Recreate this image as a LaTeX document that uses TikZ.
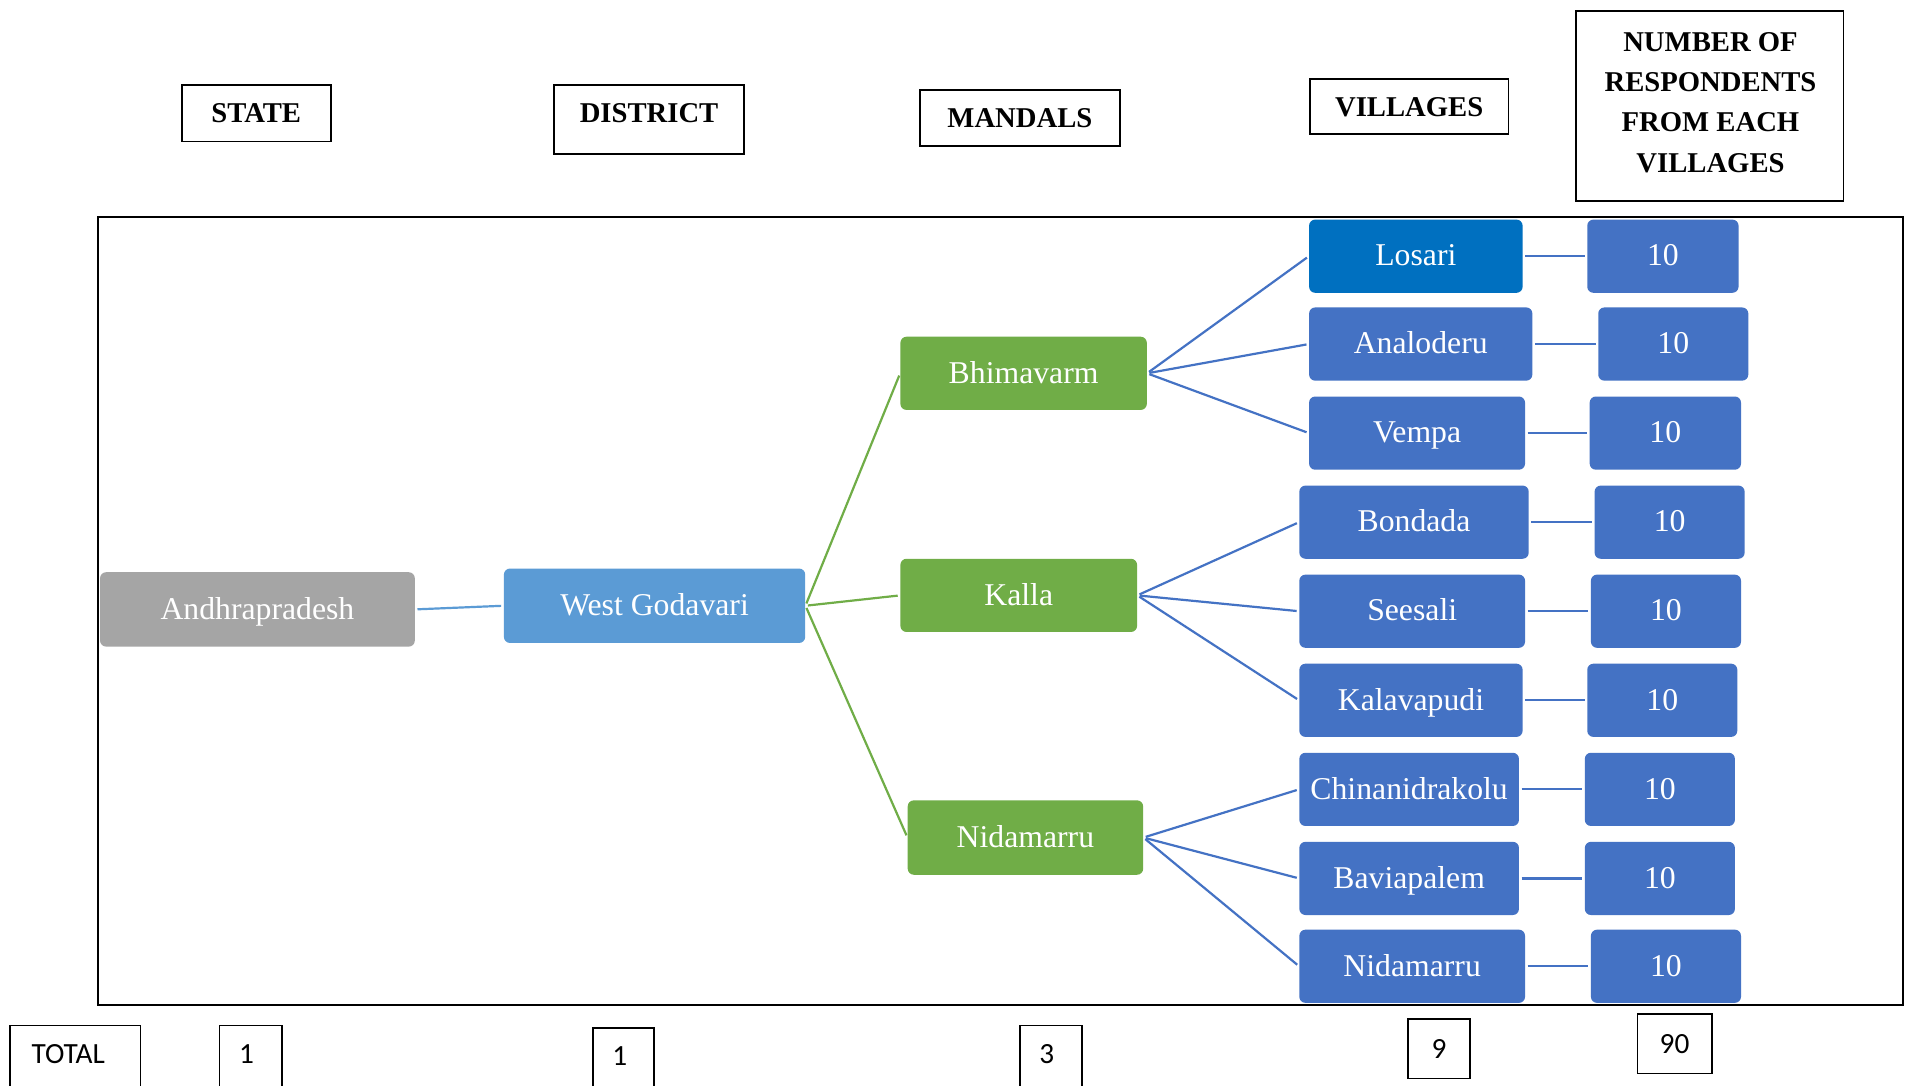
\documentclass[tikz,border=0pt]{standalone}
\usepackage{fontspec}
\setmainfont{Liberation Serif}
\newfontfamily\calib{Carlito}
\definecolor{cgray}{HTML}{A5A5A5}
\definecolor{clblue}{HTML}{5B9BD5}
\definecolor{cgreen}{HTML}{70AD47}
\definecolor{cblue}{HTML}{4472C4}
\definecolor{cdblue}{HTML}{0070C0}
\begin{document}
\begin{tikzpicture}[x=1pt,y=-1pt,
  box/.style={rounded corners=5pt, text=white, inner sep=0pt, font=\fontsize{26}{30}\selectfont, minimum height=60pt, text height=18.5pt, text depth=2.5pt},
  hdr/.style={draw=black, line width=1.5pt, fill=white, inner sep=0pt, font=\bfseries\fontsize{23.5}{33}\selectfont},
  hdrtxt/.style={inner sep=0pt, font=\bfseries\fontsize{23.5}{33}\selectfont},
  tot/.style={draw=black, line width=1.3pt, inner sep=0pt, font=\calib\fontsize{24}{28}\selectfont},
  tottxt/.style={inner sep=0pt, font=\calib\fontsize{24}{28}\selectfont},
  link/.style={line width=1.8pt, shorten <=2pt, shorten >=2pt}]
\useasboundingbox (0,0) rectangle (1568,890);
\clip (0,0) rectangle (1568,890);
\fill[white] (0,0) rectangle (1568,890);

% headers
\node[hdr, minimum width=122pt, minimum height=46pt] (hstate) at (210,93) {STATE};
\node[hdr, minimum width=156pt, minimum height=56pt] (hdistrict) at (532,98) {};
\node[hdrtxt] (tdistrict) at (532,93) {DISTRICT};
\node[hdr, minimum width=164pt, minimum height=46pt] (hmandals) at (836,97) {MANDALS};
\node[hdr, minimum width=163pt, minimum height=45pt] (hvillages) at (1155,87.5) {VILLAGES};
\node[hdr, minimum width=219pt, minimum height=156pt] (hnumber) at (1401.5,87) {};
\node[hdrtxt, align=center] (tnumber) at (1402,84) {NUMBER OF\\RESPONDENTS\\FROM EACH\\VILLAGES};

% frame
\node[draw=black, line width=1.5pt, minimum width=1480pt, minimum height=646pt, inner sep=0pt] (frame) at (820,501) {};

% tree nodes
\node[box, fill=cgray, minimum width=258pt, minimum height=61pt] (andhra) at (211,499.5) {Andhrapradesh};
\node[box, fill=clblue, minimum width=247pt, minimum height=61pt] (wg) at (536.5,496.5) {West Godavari};
\node[box, fill=cgreen, minimum width=202pt] (bhim) at (839,306) {Bhimavarm};
\node[box, fill=cgreen, minimum width=194pt] (kalla) at (835,488) {Kalla};
\node[box, fill=cgreen, minimum width=193pt, minimum height=61pt] (nidm) at (840.5,686.5) {Nidamarru};

% villages
\node[box, fill=cdblue, minimum width=175pt] (v1) at (1160.5,210) {Losari};
\node[box, fill=cblue, minimum width=183pt] (v2) at (1164.5,282) {Analoderu};
\node[box, fill=cblue, minimum width=177pt] (v3) at (1161.5,355) {Vempa};
\node[box, fill=cblue, minimum width=188pt] (v4) at (1159,428) {Bondada};
\node[box, fill=cblue, minimum width=185pt] (v5) at (1157.5,501) {Seesali};
\node[box, fill=cblue, minimum width=183pt] (v6) at (1156.5,574) {Kalavapudi};
\node[box, fill=cblue, minimum width=180pt] (v7) at (1155,647) {Chinanidrakolu};
\node[box, fill=cblue, minimum width=180pt] (v8) at (1155,720) {Baviapalem};
\node[box, fill=cblue, minimum width=185pt] (v9) at (1157.5,792) {Nidamarru};

% counts
\node[box, fill=cblue, minimum width=124pt] (c1) at (1363,210) {10};
\node[box, fill=cblue, minimum width=123pt] (c2) at (1371.5,282) {10};
\node[box, fill=cblue, minimum width=124pt] (c3) at (1365,355) {10};
\node[box, fill=cblue, minimum width=123pt] (c4) at (1368.5,428) {10};
\node[box, fill=cblue, minimum width=123pt] (c5) at (1365.5,501) {10};
\node[box, fill=cblue, minimum width=123pt] (c6) at (1362.5,574) {10};
\node[box, fill=cblue, minimum width=123pt] (c7) at (1360.5,647) {10};
\node[box, fill=cblue, minimum width=123pt] (c8) at (1360.5,720) {10};
\node[box, fill=cblue, minimum width=123pt] (c9) at (1365.5,792) {10};

% connectors
\draw[link, clblue] (andhra.east) -- (wg.west);
\draw[link, cgreen] (wg.east) -- (bhim.west);
\draw[link, cgreen] (wg.east) -- (kalla.west);
\draw[link, cgreen] (wg.east) -- (nidm.west);
\foreach \m/\a/\b/\c in {bhim/v1/v2/v3, kalla/v4/v5/v6, nidm/v7/v8/v9}{
  \draw[link, cblue] (\m.east) -- (\a.west);
  \draw[link, cblue] (\m.east) -- (\b.west);
  \draw[link, cblue] (\m.east) -- (\c.west);
}
\foreach \i in {1,...,9}{
  \draw[link, cblue] (v\i.east) -- (c\i.west);
}

% totals
\node[tot, minimum width=107pt, minimum height=60pt, anchor=north] (ttotal) at (61.5,840) {};
\node[tottxt] (ttotaltxt) at (56,864) {TOTAL};
\node[tot, minimum width=51pt, minimum height=60pt, anchor=north] (tstate) at (205.5,840) {};
\node[tottxt] (tstatetxt) at (202,864) {1};
\node[tot, minimum width=50pt, minimum height=60pt, anchor=north] (tdist) at (511,842) {};
\node[tottxt] (tdisttxt) at (508,866) {1};
\node[tot, minimum width=51pt, minimum height=60pt, anchor=north] (tmand) at (861.5,840) {};
\node[tottxt] (tmandtxt) at (858,864) {3};
\node[tot, minimum width=51pt, minimum height=49pt] (tvill) at (1179.5,859.5) {9};
\node[tot, minimum width=61pt, minimum height=49pt] (tresp) at (1372.5,855.5) {90};
\end{tikzpicture}
\end{document}
